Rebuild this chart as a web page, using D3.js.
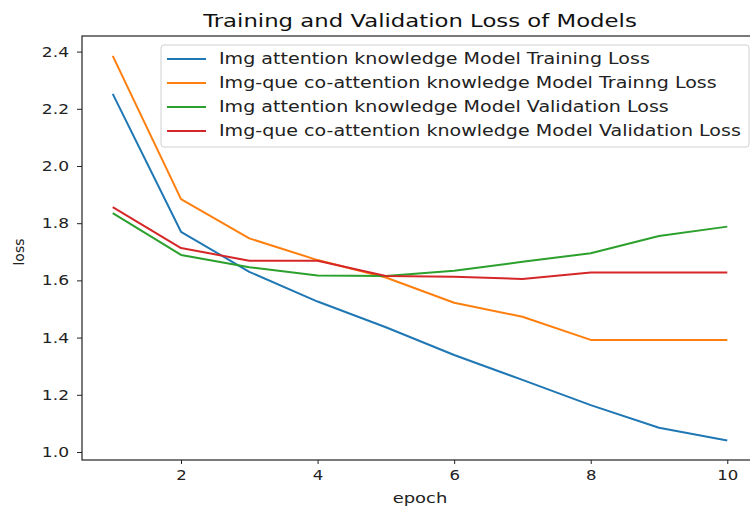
<!DOCTYPE html>
<html>
<head>
<meta charset="utf-8">
<script src="https://cdn.jsdelivr.net/npm/d3@7/dist/d3.min.js"></script>
<style>
  html, body { margin: 0; padding: 0; background: #fff; }
  svg { display: block; font-family: "DejaVu Sans", sans-serif; }
</style>
</head>
<body>
<svg id="chart" width="750" height="510"></svg>
<script>
const epochs = [1, 2, 3, 4, 5, 6, 7, 8, 9, 10];
const imgTrain   = [2.252, 1.770, 1.630, 1.526, 1.436, 1.339, 1.252, 1.164, 1.085, 1.040];
const coTrain    = [2.385, 1.884, 1.747, 1.671, 1.610, 1.522, 1.473, 1.392, 1.392, 1.392];
const imgVal     = [1.835, 1.689, 1.646, 1.617, 1.615, 1.634, 1.665, 1.695, 1.755, 1.788];
const coVal      = [1.856, 1.713, 1.669, 1.669, 1.615, 1.613, 1.605, 1.628, 1.628, 1.628];
const seriesNames = [
  "Img attention knowledge Model Training Loss",
  "Img-que co-attention knowledge Model Trainng Loss",
  "Img attention knowledge Model Validation Loss",
  "Img-que co-attention knowledge Model Validation Loss"
];
const seriesColors = ["#1f77b4", "#ff7f0e", "#2ca02c", "#d62728"];
const xTicks = [2, 4, 6, 8, 10];
const yTicks = [1.0, 1.2, 1.4, 1.6, 1.8, 2.0, 2.2, 2.4];
const titleText = "Training and Validation Loss of Models";
const xLabel = "epoch";
const yLabel = "loss";

const seriesValues = [imgTrain, coTrain, imgVal, coVal];

const svg = d3.select("#chart");
const L = 82, R = 758, T = 36, B = 460;

// the reference image is horizontally stretched; widen text accordingly
function stretch(sel, f) {
  sel.each(function () {
    const w = this.getComputedTextLength();
    d3.select(this).attr("textLength", w * f).attr("lengthAdjust", "spacingAndGlyphs");
  });
}

const x = d3.scaleLinear().domain([0.55, 10.45]).range([L, R]);
const y = d3.scaleLinear().domain([0.972, 2.4545]).range([B, T]);

// lines
const line = d3.line().x((d, i) => x(epochs[i])).y(d => y(d));
seriesValues.forEach((vals, k) => {
  svg.append("path")
    .datum(vals)
    .attr("d", line)
    .attr("fill", "none")
    .attr("stroke", seriesColors[k])
    .attr("stroke-width", 2)
    .attr("stroke-linejoin", "round");
});

// spines
svg.append("rect").attr("x", L).attr("y", T).attr("width", R - L).attr("height", B - T)
  .attr("fill", "none").attr("stroke", "#222").attr("stroke-width", 1.2);

// axes
const xAxis = d3.axisBottom(x).tickValues(xTicks).tickSize(4).tickPadding(6).tickFormat(d3.format("d"));
const gx = svg.append("g").attr("transform", `translate(0,${B})`).call(xAxis);
gx.select(".domain").remove();
gx.selectAll("text").attr("font-size", 14).attr("fill", "#222").attr("font-family", "DejaVu Sans");
gx.selectAll("line").attr("stroke", "#222");
stretch(gx.selectAll("text"), 1.18);

const yAxis = d3.axisLeft(y).tickValues(yTicks).tickSize(5).tickPadding(8).tickFormat(d3.format(".1f"));
const gy = svg.append("g").attr("transform", `translate(${L},0)`).call(yAxis);
gy.select(".domain").remove();
gy.selectAll("text").attr("font-size", 14).attr("fill", "#222").attr("font-family", "DejaVu Sans");
gy.selectAll("line").attr("stroke", "#222");
stretch(gy.selectAll("text"), 1.22);

// labels
const tt = svg.append("text").attr("x", (L + R) / 2).attr("y", 27).attr("text-anchor", "middle")
  .attr("font-size", 17).attr("fill", "#111").text(titleText);
stretch(tt, 1.34);
const xl = svg.append("text").attr("x", 420).attr("y", 503).attr("text-anchor", "middle")
  .attr("font-size", 14).attr("fill", "#222").text(xLabel);
stretch(xl, 1.28);
svg.append("text").attr("transform", "translate(24,252) rotate(-90)").attr("text-anchor", "middle")
  .attr("font-size", 14).attr("fill", "#222").text(yLabel);

// legend
const lg = svg.append("g");
lg.append("rect").attr("x", 161).attr("y", 45).attr("width", 588).attr("height", 102)
  .attr("rx", 3).attr("fill", "#fff").attr("fill-opacity", 0.85)
  .attr("stroke", "#d0d0d0").attr("stroke-width", 1);
seriesNames.forEach((name, k) => {
  const yy = 59 + k * 24;
  lg.append("line").attr("x1", 167).attr("x2", 206).attr("y1", yy).attr("y2", yy)
    .attr("stroke", seriesColors[k]).attr("stroke-width", 2);
  const t = lg.append("text").attr("x", 219).attr("y", yy + 5).attr("font-size", 15)
    .attr("fill", "#222").text(name);
  stretch(t, 1.27);
});
</script>
</body>
</html>
